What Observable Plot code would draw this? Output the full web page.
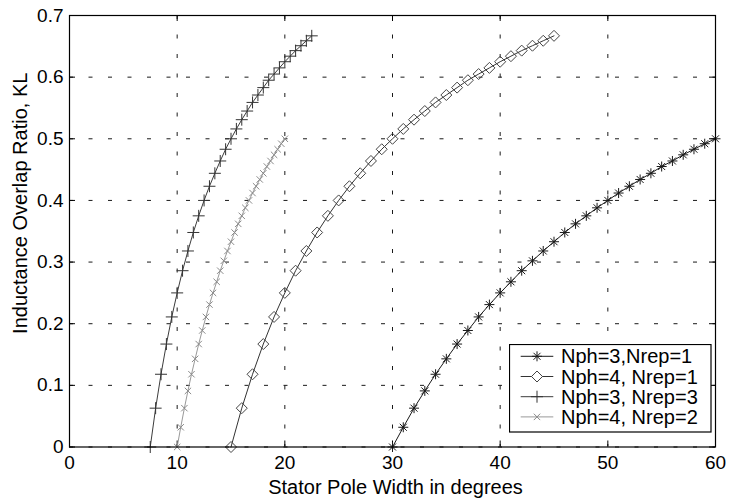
<!DOCTYPE html>
<html><head><meta charset="utf-8">
<script src="https://cdn.jsdelivr.net/npm/d3@7"></script>
<script src="https://cdn.jsdelivr.net/npm/@observablehq/plot@0.6"></script>
<style>
body{margin:0;background:#fff;}
#wrap{position:relative;width:729px;height:502px;font-family:"Liberation Sans",Arial,sans-serif;}
#legend{position:absolute;left:509px;top:344px;}
</style></head><body><div id="wrap"></div>
<script>
// ---- data ----
const seriesNames = ["Nph=3,Nrep=1", "Nph=4, Nrep=1", "Nph=3, Nrep=3", "Nph=4, Nrep=2"];
const xA = [30,31,32,33,34,35,36,37,38,39,40,41,42,43,44,45,46,47,48,49,50,51,52,53,54,55,56,57,58,59,60];
const yA = [0,0.032,0.063,0.091,0.118,0.143,0.167,0.189,0.211,0.231,0.25,0.268,0.286,0.302,0.318,0.333,0.348,0.362,0.375,0.388,0.4,0.412,0.423,0.434,0.444,0.455,0.464,0.474,0.483,0.492,0.5];
const xB = [15,16,17,18,19,20,21,22,23,24,25,26,27,28,29,30,31,32,33,34,35,36,37,38,39,40,41,42,43,44,45];
const yB = [0,0.063,0.118,0.167,0.211,0.25,0.286,0.318,0.348,0.375,0.4,0.423,0.444,0.464,0.483,0.5,0.516,0.531,0.545,0.559,0.571,0.583,0.595,0.605,0.615,0.625,0.634,0.643,0.651,0.659,0.667];
const xC = [7.5,8,8.5,9,9.5,10,10.5,11,11.5,12,12.5,13,13.5,14,14.5,15,15.5,16,16.5,17,17.5,18,18.5,19,19.5,20,20.5,21,21.5,22,22.5];
const yC = [0,0.063,0.118,0.167,0.211,0.25,0.286,0.318,0.348,0.375,0.4,0.423,0.444,0.464,0.483,0.5,0.516,0.531,0.545,0.559,0.571,0.583,0.595,0.605,0.615,0.625,0.634,0.643,0.651,0.659,0.667];
const xD = [10,10.33,10.67,11,11.33,11.67,12,12.33,12.67,13,13.33,13.67,14,14.33,14.67,15,15.33,15.67,16,16.33,16.67,17,17.33,17.67,18,18.33,18.67,19,19.33,19.67,20];
const yD = [0,0.032,0.063,0.091,0.118,0.143,0.167,0.189,0.211,0.231,0.25,0.268,0.286,0.302,0.318,0.333,0.348,0.362,0.375,0.388,0.4,0.412,0.423,0.434,0.444,0.455,0.464,0.474,0.483,0.492,0.5];
const xTicks = [0,10,20,30,40,50,60];
const yTicks = [0,0.1,0.2,0.3,0.4,0.5,0.6,0.7];
const xLabel = "Stator Pole Width in degrees";
const yLabel = "Inductance Overlap Ratio, KL";

// ---- custom marker shapes ----
const R = s => Math.sqrt(s / Math.PI);
const symStar = {draw(c, s){const r=R(s), d=r*0.7; c.moveTo(-r,0);c.lineTo(r,0);c.moveTo(0,-r);c.lineTo(0,r);c.moveTo(-d,-d);c.lineTo(d,d);c.moveTo(-d,d);c.lineTo(d,-d);}};
const symDiamond = {draw(c, s){const r=R(s); c.moveTo(0,-r);c.lineTo(r,0);c.lineTo(0,r);c.lineTo(-r,0);c.closePath();}};
const symPlus = {draw(c, s){const r=R(s); c.moveTo(-r,0);c.lineTo(r,0);c.moveTo(0,-r);c.lineTo(0,r);}};
const symTimes = {draw(c, s){const r=R(s); c.moveTo(-r,-r);c.lineTo(r,r);c.moveTo(-r,r);c.lineTo(r,-r);}};

const styles = [
  {sym: symStar, r: 5, mark: "#1a1a1a", line: "#1a1a1a"},
  {sym: symDiamond, r: 5.5, mark: "#444", line: "#333"},
  {sym: symPlus, r: 6, mark: "#333", line: "#3c3c3c"},
  {sym: symTimes, r: 3.2, mark: "#8a8a8a", line: "#999"}
];
const xs = [xA, xB, xC, xD], ys = [yA, yB, yC, yD];
const tables = xs.map((xv, i) => xv.map((x, j) => ({x, y: ys[i][j], series: seriesNames[i]})));

const W = 729, H = 502, mL = 69, mR = 14, mT = 15, mB = 55.5;
const plotW = W - mL - mR, plotH = H - mT - mB;

const marks = [
  Plot.gridX(xTicks, {stroke: "black", strokeOpacity: 0.9, strokeDasharray: "4,15.5"}),
  Plot.gridY(yTicks, {stroke: "black", strokeOpacity: 0.9, strokeDasharray: "4,15.5"}),
  Plot.ruleX(xTicks, {x: d => d, insetTop: plotH - 6, stroke: "black"}),
  Plot.ruleX(xTicks, {x: d => d, insetBottom: plotH - 6, stroke: "black"}),
  Plot.ruleY(yTicks, {y: d => d, insetRight: plotW - 6, stroke: "black"}),
  Plot.ruleY(yTicks, {y: d => d, insetLeft: plotW - 6, stroke: "black"}),
  Plot.axisX(xTicks, {tickSize: 0, tickPadding: 8.5, label: null, tickFormat: d => String(d), fontSize: 19}),
  Plot.axisY(yTicks, {tickSize: 0, tickPadding: 6, label: null, tickFormat: d => String(d), fontSize: 19}),
  Plot.text([xLabel], {text: d => d, frameAnchor: "bottom", textAnchor: "middle", lineAnchor: "top", dy: 32.5, dx: 3, fontSize: 20}),
  Plot.text([yLabel], {text: d => d, frameAnchor: "left", textAnchor: "middle", rotate: -90, lineAnchor: "middle", dx: -48.5, dy: -28, fontSize: 20}),
];
tables.forEach((t, i) => {
  const s = styles[i];
  marks.push(Plot.line(t, {x: "x", y: "y", stroke: s.line, strokeWidth: 1}));
  marks.push(Plot.dot(t, {x: "x", y: "y", symbol: s.sym, r: s.r, stroke: s.mark, fill: "none", strokeWidth: 1}));
});
marks.push(Plot.frame({stroke: "black", strokeWidth: 1.2}));

const chart = Plot.plot({
  width: W, height: H,
  marginLeft: mL, marginRight: mR, marginTop: mT, marginBottom: mB,
  x: {domain: [0, 60], axis: null},
  y: {domain: [0, 0.7], axis: null},
  style: {fontFamily: '"Liberation Sans", Arial, sans-serif', fontSize: "19px", color: "black", background: "white"},
  marks
});
const wrap = document.getElementById("wrap");
wrap.appendChild(chart);

// ---- legend (inside the plot, lower right) ----
const lg = d3.create("svg").attr("id", "legend").attr("width", 203).attr("height", 89);
lg.append("rect").attr("x", 0.5).attr("y", 0.5).attr("width", 201.5).attr("height", 87.5)
  .attr("fill", "white").attr("stroke", "black").attr("stroke-width", 1.2);
const rowY = [12.3, 32.5, 52.7, 72.9];
seriesNames.forEach((name, i) => {
  const s = styles[i], y = rowY[i];
  lg.append("line").attr("x1", 11.7).attr("x2", 44.3).attr("y1", y).attr("y2", y)
    .attr("stroke", s.line).attr("stroke-width", 1);
  lg.append("path").attr("transform", `translate(28,${y})`)
    .attr("d", d3.symbol().type(s.sym).size(Math.PI * s.r * s.r)())
    .attr("fill", i === 1 ? "white" : "none").attr("stroke", s.mark).attr("stroke-width", 1);
  lg.append("text").attr("x", 52).attr("y", y).attr("dy", "0.35em")
    .attr("font-size", 20).attr("font-family", '"Liberation Sans", Arial, sans-serif').text(name);
});
wrap.appendChild(lg.node());
</script></body></html>
